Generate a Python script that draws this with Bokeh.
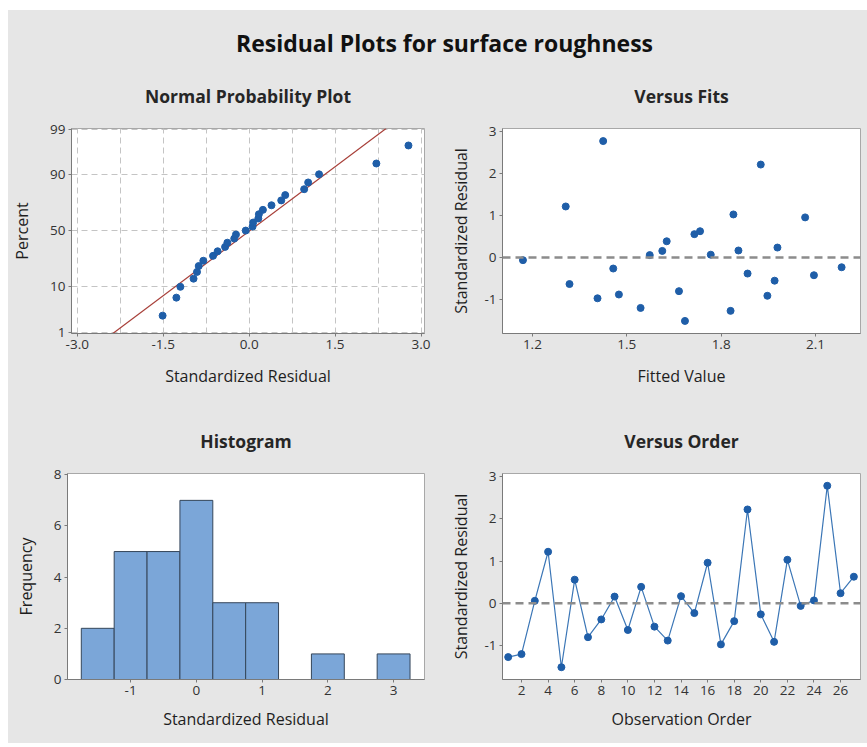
import numpy as np
from statistics import NormalDist, mean, stdev

from bokeh.plotting import figure
from bokeh.layouts import column, row
from bokeh.models import FixedTicker, NumeralTickFormatter, Span
from bokeh.core.properties import value
from bokeh.embed import file_html
from bokeh.resources import INLINE

# Standardized residuals in observation order, and the matching fitted values
std_residual = [-1.27, -1.20, 0.06, 1.22, -1.51, 0.56, -0.80, -0.38, 0.16, -0.63,
                0.39, -0.55, -0.88, 0.17, -0.23, 0.96, -0.97, -0.42, 2.22, -0.26,
                -0.91, 1.03, -0.06, 0.07, 2.78, 0.24, 0.63]
fitted_value = [1.830, 1.544, 1.573, 1.306, 1.685, 1.715, 1.666, 1.884, 1.613, 1.318,
                1.627, 1.970, 1.475, 1.855, 2.183, 2.067, 1.407, 2.095, 1.926, 1.457,
                1.947, 1.839, 1.170, 1.767, 1.425, 1.979, 1.733]
observation = list(range(1, len(std_residual) + 1))

# Axis ticks
percent_ticks = [1, 10, 50, 90, 99]
npp_x_ticks = [-3.0, -1.5, 0.0, 1.5, 3.0]
npp_x_grid = [-3.0, -2.25, -1.5, -0.75, 0.0, 0.75, 1.5, 2.25, 3.0]
fits_x_ticks = [1.2, 1.5, 1.8, 2.1]
resid_y_ticks = [-1, 0, 1, 2, 3]
hist_x_ticks = [-1, 0, 1, 2, 3]
freq_ticks = [0, 2, 4, 6, 8]
order_x_ticks = [2, 4, 6, 8, 10, 12, 14, 16, 18, 20, 22, 24, 26]

# Histogram binning
bin_start, bin_width, bin_count = -1.75, 0.5, 10

FONT = "Open Sans"
BG = "#e6e6e6"
BLUE = "#1f5ea8"
TXT = "#1e1e1e"

nd = NormalDist()


def panel(title, w, h, xr, yr, ml, mr, mt, mb):
    p = figure(width=w, height=h, x_range=xr, y_range=yr, title=title,
               output_backend="svg", toolbar_location=None,
               min_border_left=ml, min_border_right=mr,
               min_border_top=mt, min_border_bottom=mb,
               background_fill_color="white", border_fill_color=BG)
    p.title.align = "center"
    p.title.text_font = FONT
    p.title.text_font_size = "17.5px"
    p.title.text_font_style = "bold"
    p.title.text_color = "#262626"
    p.title.standoff = 42
    p.outline_line_color = "#a8a8a8"
    p.xgrid.visible = False
    p.ygrid.visible = False
    for ax in (p.xaxis[0], p.yaxis[0]):
        ax.major_tick_in = 0
        ax.major_tick_out = 3
        ax.minor_tick_in = 0
        ax.minor_tick_out = 0
        ax.axis_line_color = "#7a7a7a"
        ax.major_tick_line_color = "#7a7a7a"
        ax.major_label_text_font = FONT
        ax.major_label_text_font_size = "13.5px"
        ax.major_label_text_color = "#333333"
        ax.major_label_standoff = 3
        ax.axis_label_text_font = FONT
        ax.axis_label_text_font_size = "16px"
        ax.axis_label_text_font_style = "normal"
        ax.axis_label_text_color = TXT
    return p


def zero_line(p):
    p.add_layout(Span(location=0, dimension="width", line_color="#8c8c8c",
                      line_dash="8 5", line_width=2.5))


# ---- Main heading ----
head = figure(width=859, height=50, x_range=(0, 859), y_range=(0, 50),
              x_axis_type=None, y_axis_type=None, output_backend="svg",
              toolbar_location=None, min_border=0, border_fill_color=BG,
              background_fill_color=BG, outline_line_color=None)
head.grid.visible = False
head.text(x=[436], y=[18], text=["Residual Plots for surface roughness"],
          text_align="center", text_baseline="middle", text_font=value(FONT),
          text_font_size="23px", text_font_style="bold", text_color="#111111")

# ---- Normal probability plot ----
n = len(std_residual)
sorted_res = sorted(std_residual)
rank_z = [nd.inv_cdf((i + 1 - 0.3) / (n + 0.4)) for i in range(n)]
z_lo, z_hi = -2.36, 2.34

p1 = panel("Normal Probability Plot", 425, 345, (-3.10, 3.06), (z_lo, z_hi), 59, 9, 67, 72)
p1.xaxis.ticker = FixedTicker(ticks=npp_x_ticks)
p1.xaxis.formatter = NumeralTickFormatter(format="0.0")
pct_z = [nd.inv_cdf(v / 100) for v in percent_ticks]
p1.yaxis.ticker = FixedTicker(ticks=pct_z)
p1.yaxis.major_label_overrides = {z: str(v) for z, v in zip(pct_z, percent_ticks)}
p1.xgrid.visible = True
p1.ygrid.visible = True
p1.xgrid.ticker = FixedTicker(ticks=npp_x_grid)
p1.ygrid.ticker = FixedTicker(ticks=pct_z)
for g in (p1.xgrid, p1.ygrid):
    g.grid_line_color = "#c4c4c4"
    g.grid_line_dash = "6 4"
    g.grid_line_width = 1
p1.xaxis.axis_label = "Standardized Residual"
p1.yaxis.axis_label = "Percent"
p1.xaxis.axis_label_standoff = 13
p1.yaxis.axis_label_standoff = 14

mu, sd = mean(std_residual), stdev(std_residual)
p1.line([mu + sd * z_lo, mu + sd * z_hi], [z_lo, z_hi], color="#a8403a", line_width=1.2)
p1.scatter(sorted_res, rank_z, size=7, color=BLUE)

# ---- Versus fits ----
p2 = panel("Versus Fits", 434, 345, (1.105, 2.243), (-1.81, 3.08), 69, 7, 67, 72)
p2.xaxis.ticker = FixedTicker(ticks=fits_x_ticks)
p2.xaxis.formatter = NumeralTickFormatter(format="0.0")
p2.yaxis.ticker = FixedTicker(ticks=resid_y_ticks)
p2.yaxis.formatter = NumeralTickFormatter(format="0")
p2.xaxis.axis_label = "Fitted Value"
p2.yaxis.axis_label = "Standardized Residual"
p2.xaxis.axis_label_standoff = 13
p2.yaxis.axis_label_standoff = 9
zero_line(p2)
p2.scatter(fitted_value, std_residual, size=7, color=BLUE)

# ---- Histogram ----
edges = [bin_start + i * bin_width for i in range(bin_count + 1)]
counts, _ = np.histogram(std_residual, bins=edges)
p3 = panel("Histogram", 425, 338, (-1.96, 3.47), (0, 8.05), 59, 9, 67, 64)
p3.xaxis.ticker = FixedTicker(ticks=hist_x_ticks)
p3.xaxis.formatter = NumeralTickFormatter(format="0")
p3.yaxis.ticker = FixedTicker(ticks=freq_ticks)
p3.xaxis.axis_label = "Standardized Residual"
p3.yaxis.axis_label = "Frequency"
p3.xaxis.axis_label_standoff = 10
p3.yaxis.axis_label_standoff = 14
keep = counts > 0
p3.quad(left=np.array(edges[:-1])[keep], right=np.array(edges[1:])[keep],
        bottom=0, top=counts[keep], fill_color="#7ba6d8", line_color="#35465a",
        line_width=1)

# ---- Versus order ----
p4 = panel("Versus Order", 434, 338, (0.57, 27.5), (-1.80, 3.07), 69, 7, 67, 64)
p4.xaxis.ticker = FixedTicker(ticks=order_x_ticks)
p4.yaxis.ticker = FixedTicker(ticks=resid_y_ticks)
p4.yaxis.formatter = NumeralTickFormatter(format="0")
p4.xaxis.axis_label = "Observation Order"
p4.yaxis.axis_label = "Standardized Residual"
p4.xaxis.axis_label_standoff = 10
p4.yaxis.axis_label_standoff = 9
zero_line(p4)
p4.line(observation, std_residual, color="#3b76b6", line_width=1.2)
p4.scatter(observation, std_residual, size=7, color=BLUE)

bg_style = {"background-color": BG}
layout = column(head,
                row(p1, p2, spacing=0, styles=bg_style),
                row(p3, p4, spacing=0, styles=bg_style),
                spacing=0, styles=bg_style, margin=(10, 0, 4, 8))

with open("out.html", "w") as f:
    f.write(file_html(layout, INLINE))
